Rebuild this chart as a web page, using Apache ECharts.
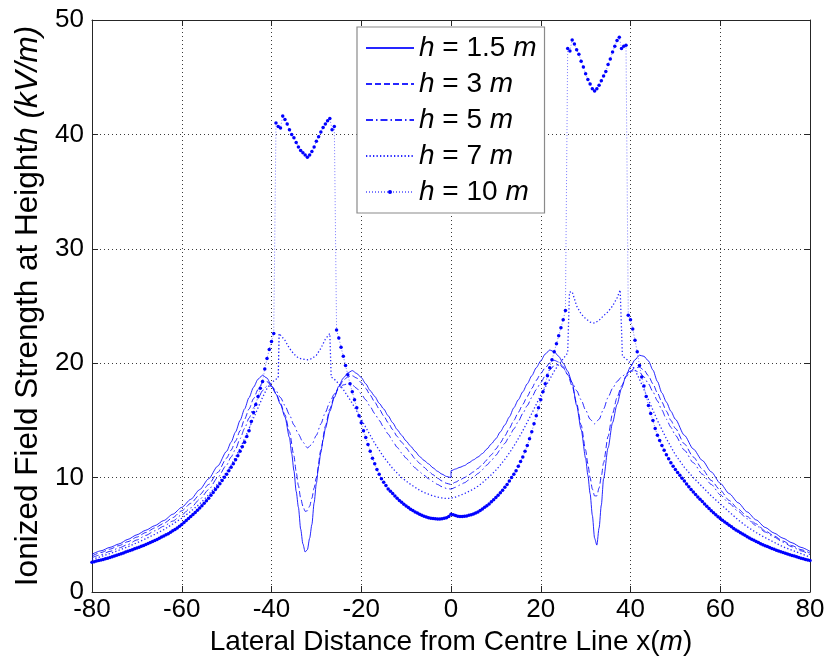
<!DOCTYPE html>
<html>
<head>
<meta charset="utf-8">
<script src="https://cdn.jsdelivr.net/npm/echarts@6/dist/echarts.min.js"></script>
<style>
html,body{margin:0;padding:0;background:#fff;}
#chart{width:838px;height:661px;}
</style>
</head>
<body>
<div id="chart"></div>
<script>
// ---- Data (x in m, y in kV/m) ----
const xTicks = [-80, -60, -40, -20, 0, 20, 40, 60, 80];
const yTicks = [0, 10, 20, 30, 40, 50];
const heights = ['1.5', '3', '5', '7', '10'];

const h15 = [[-80,3.3],[-78,3.6],[-76,3.9],[-74,4.2],[-72,4.6],[-70,5.0],[-68,5.4],[-66,5.8],[-64,6.25],[-62,6.8],[-60,7.4],[-58,8.1],[-56,8.95],[-54,9.9],[-52,11.0],[-50,12.3],[-49,13.1],[-48,14.0],[-47,15.0],[-46,16.0],[-45,17.0],[-44,17.9],[-43,18.6],[-42,18.95],[-41,18.7],[-40,18.0],[-39,17.3],[-38,16.4],[-37,15.3],[-36,13.5],[-35.5,12.1],[-35,10.6],[-34.5,8.8],[-34,7.4],[-33.5,5.5],[-33,4.2],[-32.5,3.5],[-32,3.7],[-31.5,4.7],[-31,5.9],[-30.5,7.8],[-30,9.5],[-29.5,11.0],[-29,12.2],[-28.5,13.3],[-28,14.3],[-27,15.8],[-26,17.0],[-25,18.0],[-24,18.7],[-23,19.15],[-22,19.35],[-21,19.1],[-20,18.75],[-19,18.2],[-18,17.6],[-17,17.1],[-16,16.5],[-15,16.0],[-14,15.4],[-13,14.8],[-12,14.2],[-11,13.7],[-10,13.2],[-9,12.75],[-8,12.3],[-7,11.85],[-6,11.5],[-5,11.2],[-4,10.85],[-3,10.55],[-2,10.3],[-1,10.1],[0,10.0],[0,10.6],[1,10.75],[2,10.9],[3,11.05],[4,11.3],[5,11.55],[6,11.8],[7,12.1],[8,12.5],[9,12.95],[10,13.4],[11,14.0],[12,14.6],[13,15.3],[14,16.1],[15,16.8],[16,17.5],[17,18.2],[18,18.9],[19,19.6],[20,20.2],[21,20.8],[22,21.15],[23,21.0],[24,20.6],[25,20.0],[26,19.3],[27,18.3],[28,16.3],[29,14.2],[30,11.7],[30.5,10.2],[31,8.6],[31.5,6.7],[32,4.7],[32.5,4.1],[33,5.6],[33.5,7.6],[34,9.9],[35,12.6],[36,14.8],[37,16.4],[38,17.8],[39,18.9],[40,19.7],[41,20.3],[42,20.7],[43,20.6],[44,20.2],[45,19.4],[46,18.4],[47,17.4],[48,16.6],[49,15.8],[50,15.1],[52,13.7],[54,12.5],[56,11.5],[58,10.5],[60,9.5],[62,8.6],[64,7.8],[66,7.0],[68,6.3],[70,5.65],[72,5.15],[74,4.7],[76,4.3],[78,3.9],[80,3.55]];

const h3 = [[-80,3.15],[-78,3.45],[-76,3.75],[-74,4.05],[-72,4.4],[-70,4.8],[-68,5.2],[-66,5.6],[-64,6.0],[-62,6.5],[-60,7.1],[-58,7.75],[-56,8.5],[-54,9.4],[-52,10.45],[-50,11.7],[-49,12.4],[-48,13.2],[-47,14.1],[-46,15.1],[-45,16.0],[-44,16.9],[-43,17.7],[-42,18.3],[-41,18.4],[-40,18.0],[-39,17.4],[-38,16.5],[-37,15.5],[-36,14.0],[-35,11.9],[-34.5,10.5],[-34,9.3],[-33.5,8.2],[-33,7.5],[-32.5,7.05],[-32,7.1],[-31.5,7.5],[-31,8.2],[-30.5,9.1],[-30,10.0],[-29,12.4],[-28,14.5],[-27,16.0],[-26,17.1],[-25,17.9],[-24,18.5],[-23,18.8],[-22,18.9],[-21,18.7],[-20,18.3],[-19,17.8],[-18,17.2],[-17,16.6],[-16,16.0],[-15,15.4],[-14,14.8],[-13,14.2],[-12,13.6],[-11,13.1],[-10,12.6],[-9,12.1],[-8,11.65],[-7,11.25],[-6,10.9],[-5,10.55],[-4,10.25],[-3,9.95],[-2,9.7],[-1,9.5],[0,9.4],[1,9.6],[2,9.8],[3,10.0],[4,10.25],[5,10.5],[6,10.8],[7,11.15],[8,11.55],[9,12.0],[10,12.5],[11,13.05],[12,13.65],[13,14.3],[14,15.0],[15,15.7],[16,16.4],[17,17.1],[18,17.8],[19,18.5],[20,19.1],[21,19.6],[22,20.0],[23,20.25],[24,20.1],[25,19.7],[26,19.0],[27,18.0],[28,16.5],[29,14.6],[30,12.4],[30.5,11.2],[31,10.0],[31.5,9.0],[32,8.4],[32.5,8.4],[33,9.1],[33.5,10.1],[34,11.3],[35,13.6],[36,15.6],[37,17.0],[38,18.0],[39,18.8],[40,19.3],[41,19.6],[42,19.65],[43,19.4],[44,18.9],[45,18.2],[46,17.4],[47,16.6],[48,15.8],[49,15.0],[50,14.3],[52,12.95],[54,11.8],[56,10.75],[58,9.75],[60,8.9],[62,8.0],[64,7.25],[66,6.6],[68,5.95],[70,5.35],[72,4.9],[74,4.45],[76,4.05],[78,3.7],[80,3.4]];

const h5 = [[-80,3.0],[-78,3.26],[-76,3.55],[-74,3.85],[-72,4.15],[-70,4.55],[-68,4.95],[-66,5.35],[-64,5.75],[-62,6.2],[-60,6.75],[-58,7.35],[-56,8.1],[-54,8.95],[-52,10.0],[-50,11.1],[-49,11.8],[-48,12.5],[-47,13.4],[-46,14.3],[-45,15.2],[-44,16.1],[-43,16.9],[-42,17.6],[-41,18.0],[-40,18.0],[-39,17.6],[-38,17.0],[-37,16.3],[-36,15.5],[-35,14.6],[-34,13.8],[-33,13.1],[-32,12.6],[-31,12.9],[-30,13.7],[-29,14.7],[-28,15.7],[-27,16.6],[-26,17.3],[-25,17.8],[-24,18.1],[-23,18.2],[-22,18.1],[-21,17.8],[-20,17.3],[-19,16.8],[-18,16.2],[-17,15.6],[-16,15.0],[-15,14.4],[-14,13.8],[-13,13.2],[-12,12.65],[-11,12.15],[-10,11.7],[-9,11.25],[-8,10.85],[-7,10.5],[-6,10.2],[-5,9.9],[-4,9.65],[-3,9.4],[-2,9.2],[-1,9.05],[0,9.0],[1,9.15],[2,9.35],[3,9.55],[4,9.8],[5,10.05],[6,10.35],[7,10.7],[8,11.1],[9,11.5],[10,11.95],[11,12.45],[12,13.0],[13,13.6],[14,14.25],[15,14.9],[16,15.6],[17,16.3],[18,17.0],[19,17.7],[20,18.3],[21,18.9],[22,19.4],[23,19.8],[24,19.9],[25,19.6],[26,19.0],[27,18.3],[28,17.6],[29,16.8],[30,15.9],[31,15.1],[32,14.7],[33,15.1],[34,16.0],[35,17.0],[36,17.8],[37,18.4],[38,18.8],[39,19.1],[40,19.3],[41,19.35],[42,19.2],[43,18.8],[44,18.2],[45,17.5],[46,16.7],[47,15.9],[48,15.1],[49,14.4],[50,13.7],[52,12.4],[54,11.3],[56,10.3],[58,9.4],[60,8.5],[62,7.75],[64,7.05],[66,6.4],[68,5.8],[70,5.25],[72,4.8],[74,4.35],[76,3.95],[78,3.6],[80,3.25]];

const h7 = [[-80,2.85],[-78,3.1],[-76,3.36],[-74,3.65],[-72,3.95],[-70,4.3],[-68,4.66],[-66,5.05],[-64,5.45],[-62,5.95],[-60,6.45],[-58,7.05],[-56,7.7],[-54,8.5],[-52,9.45],[-50,10.5],[-49,11.1],[-48,11.8],[-47,12.55],[-46,13.4],[-45,14.3],[-44,15.2],[-43,16.1],[-42,17.0],[-41,17.8],[-40,18.3],[-39,18.6],[-38.5,18.7],[-38.3,22.6],[-38,22.5],[-37,22.0],[-36,21.3],[-35,20.8],[-34,20.45],[-33,20.35],[-32,20.3],[-31,20.4],[-30,20.7],[-29,21.3],[-28,22.1],[-27,22.6],[-26.7,18.8],[-26,18.6],[-25,18.2],[-24,17.7],[-23,17.1],[-22,16.5],[-21,15.8],[-20,15.1],[-19,14.4],[-18,13.7],[-17,13.0],[-16,12.4],[-15,11.8],[-14,11.3],[-13,10.8],[-12,10.4],[-11,10.0],[-10,9.7],[-9,9.4],[-8,9.15],[-7,8.9],[-6,8.7],[-5,8.55],[-4,8.4],[-3,8.3],[-2,8.22],[-1,8.17],[0,8.2],[1,8.3],[2,8.45],[3,8.6],[4,8.8],[5,9.0],[6,9.25],[7,9.55],[8,9.9],[9,10.25],[10,10.65],[11,11.1],[12,11.6],[13,12.15],[14,12.75],[15,13.4],[16,14.1],[17,14.85],[18,15.6],[19,16.4],[20,17.2],[21,17.9],[22,18.6],[23,19.3],[24,19.9],[25,20.4],[26,20.9],[26.4,26.2],[27,26.25],[28,25.0],[29,24.3],[30,23.9],[31,23.6],[32,23.5],[33,23.75],[34,24.15],[35,24.5],[36,25.0],[37,25.7],[37.7,26.4],[38.2,20.6],[39,20.4],[40,20.0],[41,19.4],[42,18.6],[43,17.7],[44,16.8],[45,15.9],[46,15.0],[47,14.2],[48,13.4],[49,12.7],[50,12.0],[52,10.9],[54,10.0],[56,9.2],[58,8.4],[60,7.7],[62,7.0],[64,6.3],[66,5.7],[68,5.2],[70,4.75],[72,4.35],[74,3.95],[76,3.65],[78,3.35],[80,3.05]];

const h10 = [[-80,2.6],[-79.5,2.65],[-79,2.7],[-78.5,2.75],[-78,2.8],[-77.5,2.85],[-77,2.9],[-76.5,2.96],[-76,3.02],[-75.5,3.08],[-75,3.15],[-74.5,3.21],[-74,3.28],[-73.5,3.35],[-73,3.42],[-72.5,3.49],[-72,3.56],[-71.5,3.63],[-71,3.7],[-70.5,3.77],[-70,3.85],[-69.5,3.92],[-69,4.0],[-68.5,4.07],[-68,4.15],[-67.5,4.23],[-67,4.32],[-66.5,4.41],[-66,4.5],[-65.5,4.6],[-65,4.7],[-64.5,4.8],[-64,4.9],[-63.5,5.0],[-63,5.1],[-62.5,5.22],[-62,5.35],[-61.5,5.47],[-61,5.6],[-60.5,5.75],[-60,5.9],[-59.5,6.07],[-59,6.25],[-58.5,6.42],[-58,6.6],[-57.5,6.77],[-57,6.95],[-56.5,7.15],[-56,7.35],[-55.5,7.55],[-55,7.75],[-54.5,7.97],[-54,8.2],[-53.5,8.45],[-53,8.7],[-52.5,8.95],[-52,9.2],[-51.5,9.47],[-51,9.75],[-50.5,10.02],[-50,10.3],[-49.5,10.6],[-49,10.9],[-48.5,11.22],[-48,11.55],[-47.5,11.92],[-47,12.3],[-46.5,12.7],[-46,13.1],[-45.5,13.6],[-45,14.1],[-44.5,14.9],[-44,15.7],[-43.5,16.4],[-43,17.1],[-42.5,17.8],[-42,18.4],[-41.5,19.5],[-41,20.4],[-40.5,21.2],[-40,21.9],[-39.5,22.6],
[-39,41.0],[-38.5,40.7],[-38,40.55],[-37.5,41.6],[-37,41.3],[-36.5,40.9],[-36,40.4],[-35.5,40.0],[-35,39.7],[-34.5,39.3],[-34,38.9],[-33.5,38.6],[-33,38.4],[-32.5,38.2],[-32,38.0],[-31.5,38.2],[-31,38.5],[-30.5,38.9],[-30,39.4],[-29.5,39.8],[-29,40.2],[-28.5,40.6],[-28,40.9],[-27.5,41.2],[-27,41.4],[-26.5,40.4],[-26,40.7],
[-25.5,22.9],[-25,22.2],[-24.5,21.4],[-24,20.6],[-23.5,19.8],[-23,19.0],[-22.5,18.2],[-22,17.5],[-21.5,16.8],[-21,16.1],[-20.5,15.4],[-20,14.8],[-19.5,14.1],[-19,13.5],[-18.5,12.9],[-18,12.3],[-17.5,11.7],[-17,11.2],[-16.5,10.7],[-16,10.3],[-15.5,9.9],[-15,9.6],[-14.5,9.3],[-14,9.0],[-13.5,8.8],[-13,8.6],[-12.5,8.4],[-12,8.2],[-11.5,8.0],[-11,7.85],[-10.5,7.68],[-10,7.52],[-9.5,7.38],[-9,7.24],[-8.5,7.12],[-8,7.0],[-7.5,6.9],[-7,6.8],[-6.5,6.7],[-6,6.62],[-5.5,6.55],[-5,6.5],[-4.5,6.45],[-4,6.42],[-3.5,6.4],[-3,6.38],[-2.5,6.38],[-2,6.4],[-1.5,6.44],[-1,6.5],[-0.5,6.6],[0,6.8],[0.5,6.75],[1,6.68],[1.5,6.62],[2,6.6],[2.5,6.6],[3,6.62],[3.5,6.65],[4,6.7],[4.5,6.75],[5,6.82],[5.5,6.9],[6,7.0],[6.5,7.12],[7,7.25],[7.5,7.4],[8,7.55],[8.5,7.7],[9,7.88],[9.5,8.06],[10,8.25],[10.5,8.45],[11,8.67],[11.5,8.9],[12,9.15],[12.5,9.4],[13,9.7],[13.5,10.0],[14,10.3],[14.5,10.6],[15,11.0],[15.5,11.4],[16,11.8],[16.5,12.3],[17,12.8],[17.5,13.4],[18,14.0],[18.5,14.7],[19,15.4],[19.5,16.1],[20,16.8],[20.5,17.5],[21,18.2],[21.5,18.9],[22,19.6],[22.5,20.3],[23,21.0],[23.5,21.7],[24,22.4],[24.5,23.1],[25,23.8],[25.5,24.6],
[26,47.5],[26.5,47.3],[27,48.25],[27.5,47.9],[28,47.4],[28.5,47.0],[29,46.4],[29.5,45.9],[30,45.3],[30.5,44.8],[31,44.4],[31.5,44.0],[32,43.8],[32.5,44.0],[33,44.3],[33.5,44.7],[34,45.1],[34.5,45.5],[35,46.1],[35.5,46.6],[36,47.2],[36.5,47.7],[37,48.2],[37.5,48.5],[38,47.5],[38.5,47.7],[39,47.8],
[39.5,24.2],[40,23.8],[40.5,23.0],[41,22.0],[41.5,21.0],[42,19.8],[42.5,18.8],[43,18.0],[43.5,17.1],[44,16.3],[44.5,15.6],[45,15.0],[45.5,14.3],[46,13.7],[46.5,13.25],[47,12.8],[47.5,12.4],[48,12.0],[48.5,11.65],[49,11.3],[49.5,11.0],[50,10.7],[50.5,10.45],[51,10.2],[51.5,9.95],[52,9.7],[52.5,9.45],[53,9.2],[53.5,8.97],[54,8.75],[54.5,8.52],[55,8.3],[55.5,8.1],[56,7.9],[56.5,7.7],[57,7.5],[57.5,7.3],[58,7.1],[58.5,6.92],[59,6.75],[59.5,6.58],[60,6.42],[60.5,6.27],[61,6.12],[61.5,5.98],[62,5.84],[62.5,5.7],[63,5.56],[63.5,5.43],[64,5.3],[64.5,5.18],[65,5.06],[65.5,4.95],[66,4.84],[66.5,4.73],[67,4.62],[67.5,4.52],[68,4.42],[68.5,4.32],[69,4.22],[69.5,4.13],[70,4.05],[70.5,3.97],[71,3.89],[71.5,3.81],[72,3.73],[72.5,3.66],[73,3.59],[73.5,3.52],[74,3.45],[74.5,3.38],[75,3.32],[75.5,3.26],[76,3.2],[76.5,3.14],[77,3.08],[77.5,3.02],[78,2.96],[78.5,2.9],[79,2.85],[79.5,2.8],[80,2.75]];

// ---- Chart ----
const FONT = '"Liberation Sans", Arial, Helvetica, sans-serif';
const BLUE = '#0000ff';
const names = heights.map(h => 'h = ' + h + ' m');
const seriesData = [h15, h3, h5, h7, h10];
const dashes = ['solid', [6, 3], [7, 3, 1.5, 3], [1.3, 2.2], [1, 2]];
const widths = [1, 1, 1, 1.3, 1];

const chart = echarts.init(document.getElementById('chart'), null, {renderer: 'canvas'});

const series = seriesData.map((d, i) => {
  const isMarked = i === 4;
  return {
    name: names[i],
    type: 'line',
    data: d,
    xAxisIndex: 0,
    yAxisIndex: 0,
    smooth: (i < 3) ? 0.25 : false,
    smoothMonotone: 'x',
    symbol: isMarked ? 'circle' : 'none',
    symbolSize: isMarked ? 3.5 : 0,
    showSymbol: isMarked,
    showAllSymbol: true,
    sampling: null,
    clip: true,
    lineStyle: {
      color: isMarked ? '#7a7aff' : BLUE,
      width: widths[i],
      type: dashes[i],
      opacity: isMarked ? 1 : 0.85
    },
    itemStyle: { color: BLUE, borderWidth: 0 },
    emphasis: { disabled: true },
    z: 2 + i
  };
});

chart.setOption({
  animation: false,
  backgroundColor: '#ffffff',
  textStyle: { fontFamily: FONT, color: '#000' },
  grid: { left: 92, right: 28, top: 20, bottom: 69, containLabel: false },
  legend: {
    data: names.map((n, i) => (i < 4 ? { name: n, itemStyle: { opacity: 0 } } : { name: n })),
    orient: 'vertical',
    left: 357,
    top: 27,
    itemWidth: 48,
    itemHeight: 5,
    itemGap: 8,
    padding: [7, 8, 7, 8],
    backgroundColor: '#ffffff',
    borderColor: '#8a8a8a',
    borderWidth: 1.2,
    selectedMode: false,
    formatter: n => n.replace(/^h/, '{i|h}').replace(/m$/, '{i|m}'),
    textStyle: {
      fontSize: 28, lineHeight: 28, fontFamily: FONT, color: '#000', padding: [0, 0, 0, 0],
      rich: { i: { fontStyle: 'italic', fontSize: 28, lineHeight: 28, fontFamily: FONT, color: '#000' } }
    }
  },
  xAxis: [{
    type: 'value', min: -80, max: 80, interval: 20,
    position: 'bottom',
    name: 'Lateral Distance from Centre Line x({i|m})',
    nameLocation: 'middle', nameGap: 32,
    nameTextStyle: { fontSize: 28, fontFamily: FONT, color: '#000', rich: { i: { fontStyle: 'italic', fontSize: 28, fontFamily: FONT } } },
    axisLine: { show: true, onZero: false, lineStyle: { color: '#262626', width: 1 } },
    axisTick: { show: true, inside: true, length: 6, lineStyle: { color: '#262626' } },
    axisLabel: { fontSize: 26, color: '#000', fontFamily: FONT, margin: 5, formatter: v => String(v) },
    splitLine: { show: true, lineStyle: { color: '#3a3a3a', type: [1, 3], width: 1 } }
  }, {
    type: 'value', min: -80, max: 80, interval: 20,
    position: 'top',
    axisLine: { show: true, onZero: false, lineStyle: { color: '#262626', width: 1 } },
    axisTick: { show: true, inside: true, length: 6, lineStyle: { color: '#262626' } },
    axisLabel: { show: false },
    splitLine: { show: false }
  }],
  yAxis: [{
    type: 'value', min: 0, max: 50, interval: 10,
    position: 'left',
    name: 'Ionized Field Strength at Height{i|h} {i|(kV/m)}',
    nameLocation: 'middle', nameGap: 46, nameRotate: 90,
    nameTextStyle: { fontSize: 31.5, fontFamily: FONT, color: '#000', rich: { i: { fontStyle: 'italic', fontSize: 31.5, fontFamily: FONT } } },
    axisLine: { show: true, onZero: false, lineStyle: { color: '#262626', width: 1 } },
    axisTick: { show: true, inside: true, length: 6, lineStyle: { color: '#262626' } },
    axisLabel: { fontSize: 26, color: '#000', fontFamily: FONT, margin: 8 },
    splitLine: { show: true, lineStyle: { color: '#3a3a3a', type: [1, 3], width: 1 } }
  }, {
    type: 'value', min: 0, max: 50, interval: 10,
    position: 'right',
    axisLine: { show: true, onZero: false, lineStyle: { color: '#262626', width: 1 } },
    axisTick: { show: true, inside: true, length: 6, lineStyle: { color: '#262626' } },
    axisLabel: { show: false },
    splitLine: { show: false }
  }],
  series: series
});
</script>
</body>
</html>
